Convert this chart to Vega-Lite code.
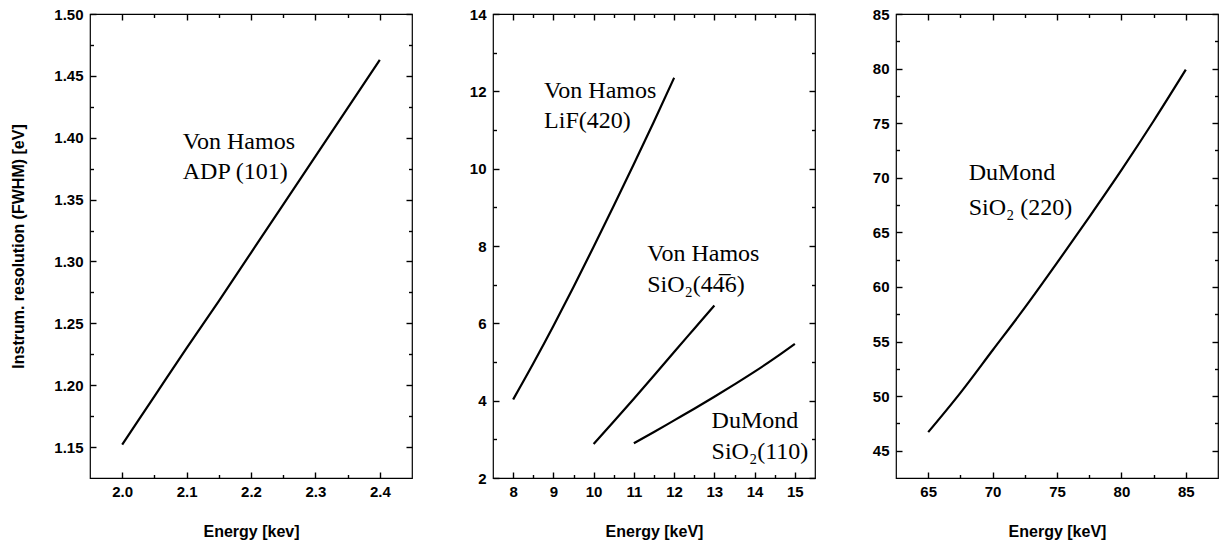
{
  "$schema": "https://vega.github.io/schema/vega-lite/v6.json",
  "background": "white",
  "padding": {"left": 10, "top": 6, "right": 0, "bottom": 0},
  "spacing": 81,
  "bounds": "flush",
  "config": {
    "view": {"stroke": "black", "strokeWidth": 1.2},
    "axis": {
      "labelFont": "Liberation Sans", "labelFontWeight": "bold", "labelFontSize": 15, "labelColor": "black",
      "titleFont": "Liberation Sans", "titleFontWeight": "bold", "titleFontSize": 16, "titleColor": "black",
      "domain": false, "grid": false, "labelOverlap": false, "labelFlush": false, "zindex": 1
    },
    "text": {"font": "Liberation Serif", "fontSize": 24, "color": "black", "align": "left", "baseline": "alphabetic"}
  },
  "datasets": {
    "p1": [
      {"E": 2.0, "R": 1.152, "s": "ADP"}, {"E": 2.05, "R": 1.191, "s": "ADP"}, {"E": 2.1, "R": 1.230, "s": "ADP"},
      {"E": 2.15, "R": 1.268, "s": "ADP"}, {"E": 2.2, "R": 1.307, "s": "ADP"}, {"E": 2.25, "R": 1.346, "s": "ADP"},
      {"E": 2.3, "R": 1.385, "s": "ADP"}, {"E": 2.35, "R": 1.424, "s": "ADP"}, {"E": 2.4, "R": 1.463, "s": "ADP"}
    ],
    "p2": [
      {"E": 8.0, "R": 4.03, "s": "LiF420"}, {"E": 8.5, "R": 4.96, "s": "LiF420"}, {"E": 9.0, "R": 5.93, "s": "LiF420"},
      {"E": 9.5, "R": 6.94, "s": "LiF420"}, {"E": 10.0, "R": 7.98, "s": "LiF420"}, {"E": 10.5, "R": 9.04, "s": "LiF420"},
      {"E": 11.0, "R": 10.12, "s": "LiF420"}, {"E": 11.5, "R": 11.22, "s": "LiF420"}, {"E": 12.0, "R": 12.35, "s": "LiF420"},
      {"E": 10.0, "R": 2.88, "s": "SiO2_446"}, {"E": 10.5, "R": 3.46, "s": "SiO2_446"}, {"E": 11.0, "R": 4.05, "s": "SiO2_446"},
      {"E": 11.5, "R": 4.65, "s": "SiO2_446"}, {"E": 12.0, "R": 5.26, "s": "SiO2_446"}, {"E": 12.5, "R": 5.86, "s": "SiO2_446"},
      {"E": 13.0, "R": 6.46, "s": "SiO2_446"},
      {"E": 11.0, "R": 2.90, "s": "SiO2_110"}, {"E": 11.5, "R": 3.19, "s": "SiO2_110"}, {"E": 12.0, "R": 3.49, "s": "SiO2_110"},
      {"E": 12.5, "R": 3.79, "s": "SiO2_110"}, {"E": 13.0, "R": 4.10, "s": "SiO2_110"}, {"E": 13.5, "R": 4.42, "s": "SiO2_110"},
      {"E": 14.0, "R": 4.75, "s": "SiO2_110"}, {"E": 14.5, "R": 5.10, "s": "SiO2_110"}, {"E": 15.0, "R": 5.47, "s": "SiO2_110"}
    ],
    "p3": [
      {"E": 65, "R": 46.7, "s": "SiO2_220"}, {"E": 67.5, "R": 50.3, "s": "SiO2_220"}, {"E": 70, "R": 54.2, "s": "SiO2_220"},
      {"E": 72.5, "R": 58.1, "s": "SiO2_220"}, {"E": 75, "R": 62.2, "s": "SiO2_220"}, {"E": 77.5, "R": 66.4, "s": "SiO2_220"},
      {"E": 80, "R": 70.7, "s": "SiO2_220"}, {"E": 82.5, "R": 75.2, "s": "SiO2_220"}, {"E": 85, "R": 79.9, "s": "SiO2_220"}
    ],
    "t1": [
      {"E": 2.094, "R": 1.391, "label": "Von Hamos"},
      {"E": 2.094, "R": 1.367, "label": "ADP (101)"}
    ],
    "t2": [
      {"E": 8.77, "R": 11.84, "label": "Von Hamos"},
      {"E": 8.77, "R": 11.06, "label": "LiF(420)"},
      {"E": 11.33, "R": 7.61, "label": "Von Hamos"},
      {"E": 11.33, "R": 6.80, "label": "SiO\u2082(44\u03056)"},
      {"E": 12.93, "R": 3.29, "label": "DuMond"},
      {"E": 12.93, "R": 2.48, "label": "SiO\u2082(110)"}
    ],
    "t3": [
      {"E": 68.14, "R": 69.77, "label": "DuMond"},
      {"E": 68.14, "R": 66.58, "label": "SiO\u2082 (220)"}
    ]
  },
  "hconcat": [
    {
      "width": 322, "height": 464,
      "layer": [
        {
          "data": {"name": "p1"},
          "mark": {"type": "line", "color": "black", "strokeWidth": 2.2, "interpolate": "monotone"},
          "encoding": {
            "x": {"field": "E", "type": "quantitative", "scale": {"domain": [1.95, 2.45], "nice": false, "zero": false},
              "axis": {"orient": "bottom", "values": [2.0, 2.1, 2.2, 2.3, 2.4], "format": ".1f", "ticks": false,
                "labelPadding": 6, "title": "Energy [kev]", "titlePadding": 24}},
            "y": {"field": "R", "type": "quantitative", "scale": {"domain": [1.125, 1.5], "nice": false, "zero": false},
              "axis": {"orient": "left", "values": [1.15, 1.2, 1.25, 1.3, 1.35, 1.4, 1.45, 1.5], "format": ".2f", "ticks": false,
                "labelPadding": 7, "title": "Instrum. resolution (FWHM) [eV]", "titlePadding": 27}},
            "detail": {"field": "s"}
          }
        },
        {
          "data": {"name": "p1"},
          "mark": {"type": "line", "opacity": 0},
          "encoding": {
            "x": {"field": "E", "type": "quantitative", "axis": {"orient": "bottom", "values": [2.0, 2.1, 2.2, 2.3, 2.4], "labels": false, "title": null, "tickSize": 6, "tickWidth": 1.4, "tickColor": "black", "offset": -6}},
            "y": {"field": "R", "type": "quantitative", "axis": {"orient": "left", "values": [1.15, 1.2, 1.25, 1.3, 1.35, 1.4, 1.45, 1.5], "labels": false, "title": null, "tickSize": 6, "tickWidth": 1.4, "tickColor": "black", "offset": -6}},
            "detail": {"field": "s"}
          }
        },
        {
          "data": {"name": "p1"},
          "mark": {"type": "line", "opacity": 0},
          "encoding": {
            "x": {"field": "E", "type": "quantitative", "axis": {"orient": "top", "values": [2.0, 2.1, 2.2, 2.3, 2.4], "labels": false, "title": null, "tickSize": -6, "tickWidth": 1.4, "tickColor": "black"}},
            "y": {"field": "R", "type": "quantitative", "axis": {"orient": "right", "values": [1.15, 1.2, 1.25, 1.3, 1.35, 1.4, 1.45, 1.5], "labels": false, "title": null, "tickSize": -6, "tickWidth": 1.4, "tickColor": "black"}},
            "detail": {"field": "s"}
          }
        },
        {
          "data": {"name": "p1"},
          "mark": {"type": "line", "opacity": 0},
          "encoding": {
            "x": {"field": "E", "type": "quantitative", "axis": {"orient": "bottom", "values": [2.05, 2.15, 2.25, 2.35], "labels": false, "title": null, "tickSize": 3.5, "tickWidth": 1.4, "tickColor": "black", "offset": -3.5}},
            "y": {"field": "R", "type": "quantitative", "axis": {"orient": "left", "values": [1.175, 1.225, 1.275, 1.325, 1.375, 1.425, 1.475], "labels": false, "title": null, "tickSize": 3.5, "tickWidth": 1.4, "tickColor": "black", "offset": -3.5}},
            "detail": {"field": "s"}
          }
        },
        {
          "data": {"name": "p1"},
          "mark": {"type": "line", "opacity": 0},
          "encoding": {
            "x": {"field": "E", "type": "quantitative", "axis": {"orient": "top", "values": [2.05, 2.15, 2.25, 2.35], "labels": false, "title": null, "tickSize": -3.5, "tickWidth": 1.4, "tickColor": "black"}},
            "y": {"field": "R", "type": "quantitative", "axis": {"orient": "right", "values": [1.175, 1.225, 1.275, 1.325, 1.375, 1.425, 1.475], "labels": false, "title": null, "tickSize": -3.5, "tickWidth": 1.4, "tickColor": "black"}},
            "detail": {"field": "s"}
          }
        },
        {
          "data": {"name": "t1"},
          "mark": {"type": "text"},
          "encoding": {
            "x": {"field": "E", "type": "quantitative", "axis": null},
            "y": {"field": "R", "type": "quantitative", "axis": null},
            "text": {"field": "label"}
          }
        }
      ],
      "resolve": {"axis": {"x": "independent", "y": "independent"}}
    },
    {
      "width": 322, "height": 464,
      "layer": [
        {
          "data": {"name": "p2"},
          "mark": {"type": "line", "color": "black", "strokeWidth": 2.2, "interpolate": "monotone"},
          "encoding": {
            "x": {"field": "E", "type": "quantitative", "scale": {"domain": [7.5, 15.5], "nice": false, "zero": false},
              "axis": {"orient": "bottom", "values": [8, 9, 10, 11, 12, 13, 14, 15], "format": "d", "ticks": false,
                "labelPadding": 6, "title": "Energy [keV]", "titlePadding": 24}},
            "y": {"field": "R", "type": "quantitative", "scale": {"domain": [2, 14], "nice": false, "zero": false},
              "axis": {"orient": "left", "values": [2, 4, 6, 8, 10, 12, 14], "format": "d", "ticks": false,
                "labelPadding": 7, "title": null}},
            "detail": {"field": "s"}
          }
        },
        {
          "data": {"name": "p2"},
          "mark": {"type": "line", "opacity": 0},
          "encoding": {
            "x": {"field": "E", "type": "quantitative", "axis": {"orient": "bottom", "values": [8, 9, 10, 11, 12, 13, 14, 15], "labels": false, "title": null, "tickSize": 6, "tickWidth": 1.4, "tickColor": "black", "offset": -6}},
            "y": {"field": "R", "type": "quantitative", "axis": {"orient": "left", "values": [2, 4, 6, 8, 10, 12, 14], "labels": false, "title": null, "tickSize": 6, "tickWidth": 1.4, "tickColor": "black", "offset": -6}},
            "detail": {"field": "s"}
          }
        },
        {
          "data": {"name": "p2"},
          "mark": {"type": "line", "opacity": 0},
          "encoding": {
            "x": {"field": "E", "type": "quantitative", "axis": {"orient": "top", "values": [8, 9, 10, 11, 12, 13, 14, 15], "labels": false, "title": null, "tickSize": -6, "tickWidth": 1.4, "tickColor": "black"}},
            "y": {"field": "R", "type": "quantitative", "axis": {"orient": "right", "values": [2, 4, 6, 8, 10, 12, 14], "labels": false, "title": null, "tickSize": -6, "tickWidth": 1.4, "tickColor": "black"}},
            "detail": {"field": "s"}
          }
        },
        {
          "data": {"name": "p2"},
          "mark": {"type": "line", "opacity": 0},
          "encoding": {
            "x": {"field": "E", "type": "quantitative", "axis": {"orient": "bottom", "values": [8.5, 9.5, 10.5, 11.5, 12.5, 13.5, 14.5], "labels": false, "title": null, "tickSize": 3.5, "tickWidth": 1.4, "tickColor": "black", "offset": -3.5}},
            "y": {"field": "R", "type": "quantitative", "axis": {"orient": "left", "values": [3, 5, 7, 9, 11, 13], "labels": false, "title": null, "tickSize": 3.5, "tickWidth": 1.4, "tickColor": "black", "offset": -3.5}},
            "detail": {"field": "s"}
          }
        },
        {
          "data": {"name": "p2"},
          "mark": {"type": "line", "opacity": 0},
          "encoding": {
            "x": {"field": "E", "type": "quantitative", "axis": {"orient": "top", "values": [8.5, 9.5, 10.5, 11.5, 12.5, 13.5, 14.5], "labels": false, "title": null, "tickSize": -3.5, "tickWidth": 1.4, "tickColor": "black"}},
            "y": {"field": "R", "type": "quantitative", "axis": {"orient": "right", "values": [3, 5, 7, 9, 11, 13], "labels": false, "title": null, "tickSize": -3.5, "tickWidth": 1.4, "tickColor": "black"}},
            "detail": {"field": "s"}
          }
        },
        {
          "data": {"name": "t2"},
          "mark": {"type": "text"},
          "encoding": {
            "x": {"field": "E", "type": "quantitative", "axis": null},
            "y": {"field": "R", "type": "quantitative", "axis": null},
            "text": {"field": "label"}
          }
        }
      ],
      "resolve": {"axis": {"x": "independent", "y": "independent"}}
    },
    {
      "width": 322, "height": 464,
      "layer": [
        {
          "data": {"name": "p3"},
          "mark": {"type": "line", "color": "black", "strokeWidth": 2.2, "interpolate": "monotone"},
          "encoding": {
            "x": {"field": "E", "type": "quantitative", "scale": {"domain": [62.5, 87.5], "nice": false, "zero": false},
              "axis": {"orient": "bottom", "values": [65, 70, 75, 80, 85], "format": "d", "ticks": false,
                "labelPadding": 6, "title": "Energy [keV]", "titlePadding": 24}},
            "y": {"field": "R", "type": "quantitative", "scale": {"domain": [42.5, 85], "nice": false, "zero": false},
              "axis": {"orient": "left", "values": [45, 50, 55, 60, 65, 70, 75, 80, 85], "format": "d", "ticks": false,
                "labelPadding": 7, "title": null}},
            "detail": {"field": "s"}
          }
        },
        {
          "data": {"name": "p3"},
          "mark": {"type": "line", "opacity": 0},
          "encoding": {
            "x": {"field": "E", "type": "quantitative", "axis": {"orient": "bottom", "values": [65, 70, 75, 80, 85], "labels": false, "title": null, "tickSize": 6, "tickWidth": 1.4, "tickColor": "black", "offset": -6}},
            "y": {"field": "R", "type": "quantitative", "axis": {"orient": "left", "values": [45, 50, 55, 60, 65, 70, 75, 80, 85], "labels": false, "title": null, "tickSize": 6, "tickWidth": 1.4, "tickColor": "black", "offset": -6}},
            "detail": {"field": "s"}
          }
        },
        {
          "data": {"name": "p3"},
          "mark": {"type": "line", "opacity": 0},
          "encoding": {
            "x": {"field": "E", "type": "quantitative", "axis": {"orient": "top", "values": [65, 70, 75, 80, 85], "labels": false, "title": null, "tickSize": -6, "tickWidth": 1.4, "tickColor": "black"}},
            "y": {"field": "R", "type": "quantitative", "axis": {"orient": "right", "values": [45, 50, 55, 60, 65, 70, 75, 80, 85], "labels": false, "title": null, "tickSize": -6, "tickWidth": 1.4, "tickColor": "black"}},
            "detail": {"field": "s"}
          }
        },
        {
          "data": {"name": "p3"},
          "mark": {"type": "line", "opacity": 0},
          "encoding": {
            "x": {"field": "E", "type": "quantitative", "axis": {"orient": "bottom", "values": [67.5, 72.5, 77.5, 82.5], "labels": false, "title": null, "tickSize": 3.5, "tickWidth": 1.4, "tickColor": "black", "offset": -3.5}},
            "y": {"field": "R", "type": "quantitative", "axis": {"orient": "left", "values": [47.5, 52.5, 57.5, 62.5, 67.5, 72.5, 77.5, 82.5], "labels": false, "title": null, "tickSize": 3.5, "tickWidth": 1.4, "tickColor": "black", "offset": -3.5}},
            "detail": {"field": "s"}
          }
        },
        {
          "data": {"name": "p3"},
          "mark": {"type": "line", "opacity": 0},
          "encoding": {
            "x": {"field": "E", "type": "quantitative", "axis": {"orient": "top", "values": [67.5, 72.5, 77.5, 82.5], "labels": false, "title": null, "tickSize": -3.5, "tickWidth": 1.4, "tickColor": "black"}},
            "y": {"field": "R", "type": "quantitative", "axis": {"orient": "right", "values": [47.5, 52.5, 57.5, 62.5, 67.5, 72.5, 77.5, 82.5], "labels": false, "title": null, "tickSize": -3.5, "tickWidth": 1.4, "tickColor": "black"}},
            "detail": {"field": "s"}
          }
        },
        {
          "data": {"name": "t3"},
          "mark": {"type": "text"},
          "encoding": {
            "x": {"field": "E", "type": "quantitative", "axis": null},
            "y": {"field": "R", "type": "quantitative", "axis": null},
            "text": {"field": "label"}
          }
        }
      ],
      "resolve": {"axis": {"x": "independent", "y": "independent"}}
    }
  ]
}
